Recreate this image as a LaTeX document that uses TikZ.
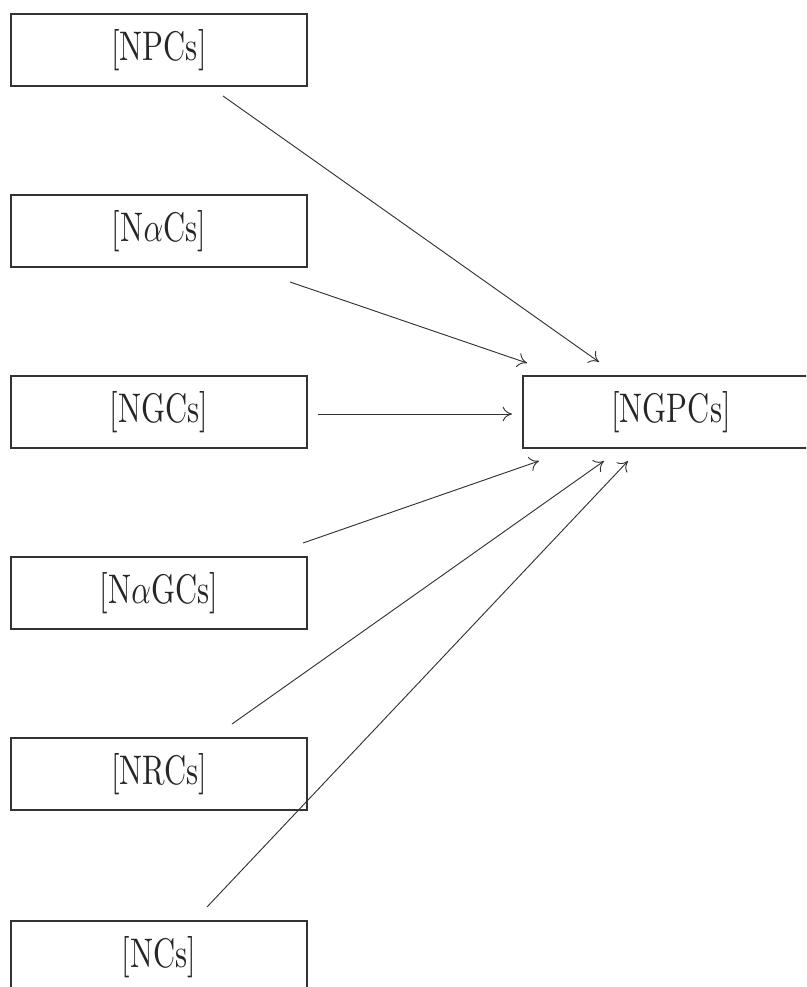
\documentclass[tikz,border=0pt]{standalone}
\usepackage{graphicx}
\usetikzlibrary{arrows.meta}
\tikzset{
  boxnode/.style={draw=black!80, line width=1.3pt, rectangle, inner sep=0pt,
    minimum width=222pt, minimum height=54pt, text=black!85,
    font=\fontsize{10}{12}\selectfont},
  conn/.style={draw=black!80, line width=0.7pt, -{To[length=7pt,width=11pt]}}
}
\newcommand{\stretchtxt}[1]{\scalebox{2.3}[3.1]{#1}}
\begin{document}
\begin{tikzpicture}[x=0.75pt,y=-0.75pt]
\clip (0,0) rectangle (806,987);
\fill[white] (0,0) rectangle (806,987);
\node[boxnode] (npc)  at (159,50)  {\stretchtxt{[NPCs]}};
\node[boxnode] (nac)  at (159,231) {\stretchtxt{[N$\alpha$Cs]}};
\node[boxnode] (ngc)  at (159,412) {\stretchtxt{[NGCs]}};
\node[boxnode] (nagc) at (159,593) {\stretchtxt{[N$\alpha$GCs]}};
\node[boxnode] (nrc)  at (159,774) {\stretchtxt{[NRCs]}};
\node[boxnode] (nc)   at (159,957) {\stretchtxt{[NCs]}};
\node[boxnode] (ngpc) at (671,412) {\stretchtxt{[NGPCs]}};
\coordinate (s1) at (223,96);  \coordinate (t1) at (599,362);
\coordinate (s2) at (290,282); \coordinate (t2) at (527,363);
\coordinate (s3) at (318,414); \coordinate (t3) at (512,414);
\coordinate (s4) at (303,543); \coordinate (t4) at (539,461);
\coordinate (s5) at (232,724); \coordinate (t5) at (604,461);
\coordinate (s6) at (207,907); \coordinate (t6) at (628,461);
\draw[conn] (s1) -- (t1);
\draw[conn] (s2) -- (t2);
\draw[conn] (s3) -- (t3);
\draw[conn] (s4) -- (t4);
\draw[conn] (s5) -- (t5);
\draw[conn] (s6) -- (t6);
\end{tikzpicture}
\end{document}
